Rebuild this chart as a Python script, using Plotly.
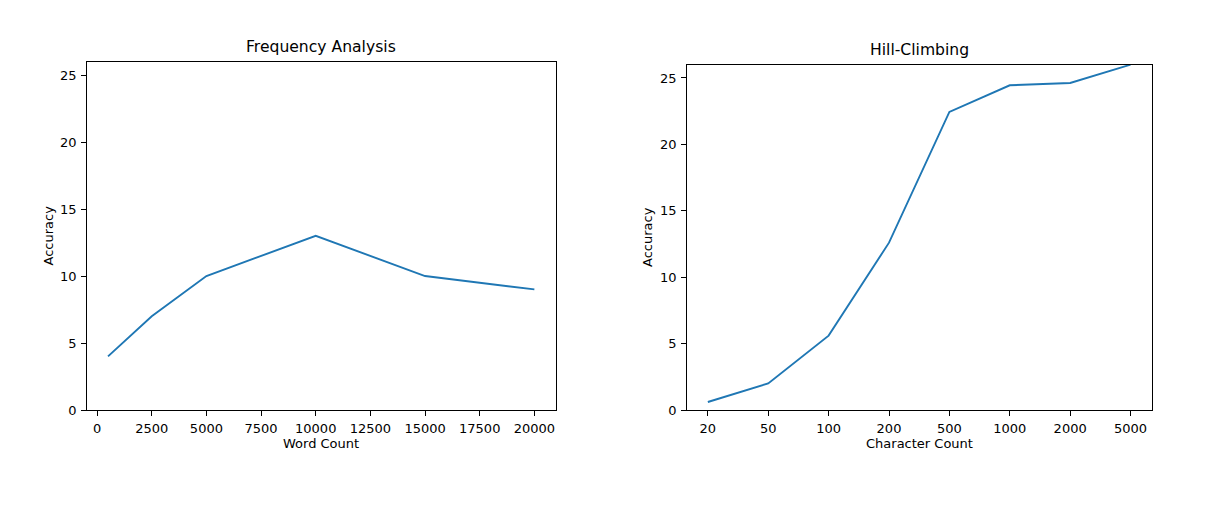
import plotly.graph_objects as go

# Data
word_counts = [500, 2500, 5000, 10000, 15000, 20000]
freq_accuracy = [4, 7, 10, 13, 10, 9]

char_counts = ["20", "50", "100", "200", "500", "1000", "2000", "5000"]
hill_accuracy = [0.6, 2.0, 5.6, 12.6, 22.45, 24.45, 24.62, 26.0]

x1_ticks = [0, 2500, 5000, 7500, 10000, 12500, 15000, 17500, 20000]
y_ticks = [0, 5, 10, 15, 20, 25]

W, H = 1209, 509
H_EFF = 501.0  # observed vertical rendering scale compensation
BLUE = "#1f77b4"
FONT = "DejaVu Sans"

def px_x(p):
    return p / W

def px_y(p):
    return 1 - p / H_EFF

fig = go.Figure()
fig.add_trace(go.Scatter(x=word_counts, y=freq_accuracy, mode="lines",
                         line=dict(color=BLUE, width=1.9), xaxis="x", yaxis="y",
                         showlegend=False, hoverinfo="x+y"))
fig.add_trace(go.Scatter(x=char_counts, y=hill_accuracy, mode="lines",
                         line=dict(color=BLUE, width=1.9), xaxis="x2", yaxis="y2",
                         showlegend=False, hoverinfo="x+y", cliponaxis=False))

axis_common = dict(showgrid=False, zeroline=False, showline=True, linecolor="black",
                   linewidth=1, mirror=True, ticks="outside", ticklen=4.5, tickwidth=1,
                   tickcolor="black", tickfont=dict(family=FONT, size=13, color="black"))

fig.update_layout(
    width=W, height=H, autosize=False,
    margin=dict(l=0, r=0, t=0, b=0),
    paper_bgcolor="white", plot_bgcolor="white",
    font=dict(family=FONT, color="black"),
    xaxis=dict(domain=[px_x(86.7), px_x(555.7)], range=[-475, 20975],
               tickvals=x1_ticks, ticktext=[str(v) for v in x1_ticks],
               anchor="y", ticklabelstandoff=2, **axis_common),
    yaxis=dict(domain=[px_y(410), px_y(61.7)], range=[0, 26], tickvals=y_ticks,
               anchor="x", ticklabelstandoff=2, **axis_common),
    xaxis2=dict(domain=[px_x(686.7), px_x(1151.7)], range=[-0.35, 7.35], type="category",
                anchor="y2", ticklabelstandoff=2, **axis_common),
    yaxis2=dict(domain=[px_y(410), px_y(64.7)], range=[0, 26], tickvals=y_ticks,
                anchor="x2", ticklabelstandoff=2, **axis_common),
)

ann_font = dict(family=FONT, size=13, color="black")
title_font = dict(family=FONT, size=15.6, color="black")
annotations = [
    dict(text="Frequency Analysis", x=px_x(321.2), y=px_y(47.3), font=title_font),
    dict(text="Hill-Climbing", x=px_x(919.2), y=px_y(50.3), font=title_font),
    dict(text="Word Count", x=px_x(321.2), y=px_y(443), font=ann_font),
    dict(text="Character Count", x=px_x(919.2), y=px_y(443), font=ann_font),
    dict(text="Accuracy", x=px_x(47.5), y=px_y(236), font=ann_font, textangle=-90),
    dict(text="Accuracy", x=px_x(647.5), y=px_y(237.5), font=ann_font, textangle=-90),
]
for a in annotations:
    fig.add_annotation(xref="paper", yref="paper", showarrow=False,
                       xanchor="center", yanchor="middle", **a)

post = (
    "var d=document.documentElement,b=document.body;"
    "d.style.margin='0';d.style.padding='0';d.style.overflow='hidden';"
    "b.style.margin='0';b.style.padding='0';b.style.overflow='hidden';"
)
fig.write_html("out.html", config={"displayModeBar": False}, post_script=post)
